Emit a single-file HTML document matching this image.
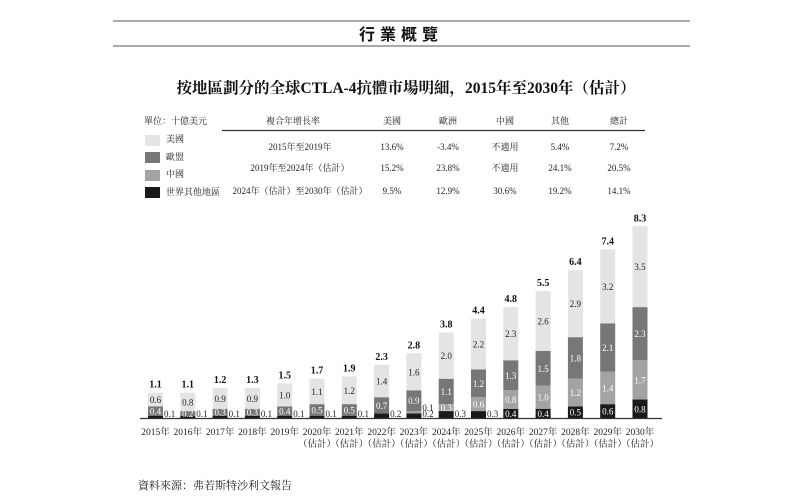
<!DOCTYPE html>
<html><head><meta charset="utf-8">
<style>
body{margin:0;background:#fff;width:800px;height:503px;overflow:hidden;font-family:"Liberation Serif","Noto Serif CJK SC","Noto Sans CJK TC",serif;}
svg{display:block}
</style></head>
<body>
<svg width="800" height="503" viewBox="0 0 800 503">
<line x1="113" y1="21" x2="690" y2="21" stroke="#555" stroke-width="1"/>
<line x1="113" y1="46" x2="690" y2="46" stroke="#555" stroke-width="1"/>
<text x="401" y="40" text-anchor="middle" font-size="16" font-weight="bold" letter-spacing="5" fill="#111" font-family="'Noto Sans CJK TC',sans-serif">行業概覽</text>
<text x="406" y="93" text-anchor="middle" font-size="15.5" font-weight="bold" fill="#111">按地區劃分的全球CTLA-4抗體市場明細，2015年至2030年（估計）</text>

<g font-size="9" fill="#222">
<text x="144" y="124">單位：十億美元</text>
<text x="293" y="124" text-anchor="middle">複合年增長率</text>
<text x="392" y="124" text-anchor="middle">美國</text>
<text x="448" y="124" text-anchor="middle">歐洲</text>
<text x="505" y="124" text-anchor="middle">中國</text>
<text x="560" y="124" text-anchor="middle">其他</text>
<text x="619" y="124" text-anchor="middle">總計</text>
<line x1="222" y1="130.5" x2="645" y2="130.5" stroke="#333" stroke-width="1.2"/>
<text x="300" y="150" text-anchor="middle">2015年至2019年</text>
<text x="392" y="150" text-anchor="middle">13.6%</text><text x="448" y="150" text-anchor="middle">-3.4%</text><text x="505" y="150" text-anchor="middle">不適用</text><text x="560" y="150" text-anchor="middle">5.4%</text><text x="619" y="150" text-anchor="middle">7.2%</text>
<text x="300" y="171" text-anchor="middle">2019年至2024年（估計）</text>
<text x="392" y="171" text-anchor="middle">15.2%</text><text x="448" y="171" text-anchor="middle">23.8%</text><text x="505" y="171" text-anchor="middle">不適用</text><text x="560" y="171" text-anchor="middle">24.1%</text><text x="619" y="171" text-anchor="middle">20.5%</text>
<text x="300" y="194" text-anchor="middle">2024年（估計）至2030年（估計）</text>
<text x="392" y="194" text-anchor="middle">9.5%</text><text x="448" y="194" text-anchor="middle">12.9%</text><text x="505" y="194" text-anchor="middle">30.6%</text><text x="560" y="194" text-anchor="middle">19.2%</text><text x="619" y="194" text-anchor="middle">14.1%</text>
</g>

<g font-size="9" fill="#222">
<rect x="145" y="135" width="15" height="11" fill="#e4e4e4"/><text x="166" y="142">美國</text>
<rect x="145" y="152" width="15" height="11" fill="#777"/><text x="166" y="160">歐盟</text>
<rect x="145" y="170" width="15" height="11" fill="#a3a3a3"/><text x="166" y="177">中國</text>
<rect x="145" y="187" width="15" height="11" fill="#1a1a1a"/><text x="166" y="195">世界其他地區</text>
</g>

<g id="bars"></g>
<line x1="140" y1="418.5" x2="662" y2="418.5" stroke="#333" stroke-width="1.2"/>
<text x="138" y="489" font-size="11" fill="#222">資料來源：弗若斯特沙利文報告</text>
</svg>
<script>
const years=["2015年","2016年","2017年","2018年","2019年","2020年","2021年","2022年","2023年","2024年","2025年","2026年","2027年","2028年","2029年","2030年"];
const estimated=[0,0,0,0,0,1,1,1,1,1,1,1,1,1,1,1];
const usVals=[0.6,0.8,0.9,0.9,1.0,1.1,1.2,1.4,1.6,2.0,2.2,2.3,2.6,2.9,3.2,3.5];
const euVals=[0.4,0.2,0.3,0.3,0.4,0.5,0.5,0.7,0.9,1.1,1.2,1.3,1.5,1.8,2.1,2.3];
const cnVals=[0,0,0,0,0,0,0,0,0.1,0.3,0.6,0.8,1.0,1.2,1.4,1.7];
const rowVals=[0.1,0.1,0.1,0.1,0.1,0.1,0.1,0.2,0.2,0.3,0.3,0.4,0.4,0.5,0.6,0.8];
const totals=[1.1,1.1,1.2,1.3,1.5,1.7,1.9,2.3,2.8,3.8,4.4,4.8,5.5,6.4,7.4,8.3];
const NS="http://www.w3.org/2000/svg";
const g=document.getElementById('bars');
const base=418, pxPerUnit=23.1, bw=15;
function xS(i){return 155.5+i*32.3;}
function yS(v){return v*pxPerUnit;}
function mk(tag,attrs){const e=document.createElementNS(NS,tag);for(const k in attrs)e.setAttribute(k,attrs[k]);g.appendChild(e);return e;}
const series=[
 {vals:rowVals,fill:"#1a1a1a",tc:"#fff",name:"row"},
 {vals:cnVals,fill:"#a3a3a3",tc:"#fff",name:"china"},
 {vals:euVals,fill:"#777",tc:"#fff",name:"eu"},
 {vals:usVals,fill:"#e4e4e4",tc:"#222",name:"us"}];
years.forEach((yr,i)=>{
  let acc=0;const cx=xS(i);
  series.forEach(s=>{
    const v=s.vals[i];if(v<=0)return;
    const h=yS(v), y=base-yS(acc)-h;
    const r=mk('rect',{x:cx-bw/2,y:y,width:bw,height:h,fill:s.fill});
    
    
    const small=(s.name==='row'&&v<0.35)||(s.name==='china'&&v<0.15);
    const t=mk('text',{x:small?cx+bw/2+1:cx,y:small?base-1-(s.name==='china'?6:0):y+h/2+3.5,'text-anchor':small?'start':'middle','font-size':9,fill:small?'#222':s.tc});
    t.textContent=v.toFixed(1);
    
    
    acc+=v;
  });
  const tot=mk('text',{x:cx,y:base-yS(acc)-5,'text-anchor':'middle','font-size':10,'font-weight':'bold',fill:'#111'});
  tot.textContent=totals[i].toFixed(1);
  
  
  const yl=mk('text',{x:cx,y:435,'text-anchor':'middle','font-size':9.5,fill:'#222'});
  yl.textContent=yr;
  
  
  if(estimated[i]){
    const el=mk('text',{x:cx,y:447,'text-anchor':'middle','font-size':9.5,fill:'#222'});
    el.textContent='（估計）';
    
    
  }
});
</script>
</body></html>
